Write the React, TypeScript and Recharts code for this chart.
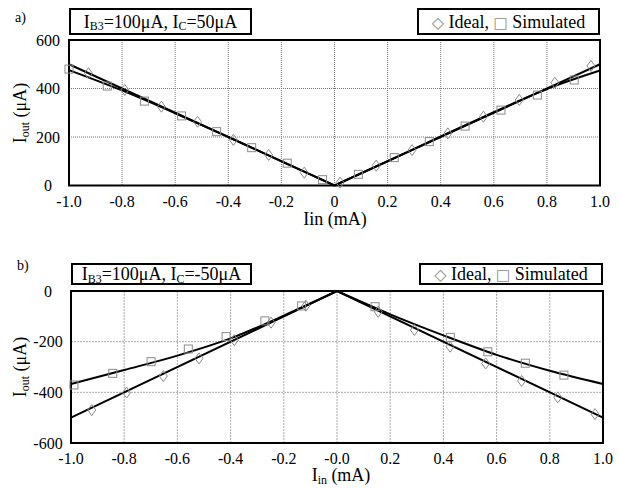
import React from 'react';
import {
  ComposedChart,
  Line,
  Scatter,
  XAxis,
  YAxis,
  CartesianGrid,
  ReferenceArea,
} from 'recharts';

// ---------- shared ticks ----------
const xTicks = [-1, -0.8, -0.6, -0.4, -0.2, 0, 0.2, 0.4, 0.6, 0.8, 1];
const yTicksA = [0, 200, 400, 600];
const yTicksB = [-600, -400, -200, 0];

// ---------- chart a) IC = 50 uA ----------
const idealMarkAX = [-0.927, -0.79, -0.652, -0.516, -0.381, -0.248, -0.114, 0.021, 0.157, 0.292, 0.427, 0.561, 0.696, 0.83, 0.966];
const idealMarkAY = [463, 394, 325, 263, 188, 126, 53, 12, 82, 146, 215, 284, 353, 424, 493];
const simMarkAX = [-1.0, -0.856, -0.716, -0.576, -0.444, -0.312, -0.178, -0.045, 0.09, 0.225, 0.357, 0.492, 0.627, 0.764, 0.903];
const simMarkAY = [480, 410, 348, 287, 222, 156, 92, 24, 46, 115, 181, 245, 311, 373, 435];
const idealLineAX = [-1, 0, 1];
const idealLineAY = [500, 0, 500];
const simLeftAX = [-1, -0.8, -0.6, -0.4, -0.2, 0];
const simLeftAY = [476, 392, 298, 200, 100, 0];
const simRightAX = [0, 0.2, 0.4, 0.6, 0.8, 1];
const simRightAY = [0, 100, 202, 302, 398, 474];

// ---------- chart b) IC = -50 uA ----------
const idealMarkBX = [-0.922, -0.791, -0.653, -0.519, -0.386, -0.248, -0.117, 0.155, 0.291, 0.425, 0.559, 0.694, 0.83, 0.97];
const idealMarkBY = [-470, -401, -336, -266, -194, -125, -58, -82, -154, -220, -286, -355, -420, -486];
const simMarkBX = [-0.989, -0.843, -0.699, -0.559, -0.417, -0.271, -0.133, 0.143, 0.426, 0.567, 0.708, 0.853];
const simMarkBY = [-371, -325, -279, -229, -180, -118, -59, -62, -183, -240, -285, -332];
const idealLineBX = [-1, 0, 1];
const idealLineBY = [-500, 0, -500];
const simLeftBX = [-1, -0.8, -0.6, -0.4, -0.2, 0];
const simLeftBY = [-367, -312, -255, -187, -97, 0];
const simRightBX = [0, 0.2, 0.4, 0.6, 0.8, 1];
const simRightBY = [0, -92, -175, -252, -315, -367];

const zip = (xs: number[], ys: number[]) => xs.map((x, i) => ({ x, y: ys[i] }));

const FONT = '"Liberation Serif", "Times New Roman", serif';
const SYM = '"DejaVu Sans", sans-serif';
const MARK = '#8a8a8a';

const Diamond = (p: any) => {
  const { cx, cy } = p;
  if (cx == null || cy == null) return <g />;
  return (
    <path
      d={`M${cx},${cy - 5.5} L${cx + 4},${cy} L${cx},${cy + 5.5} L${cx - 4},${cy} Z`}
      fill="none"
      stroke={MARK}
      strokeWidth={1}
    />
  );
};

const Square = (p: any) => {
  const { cx, cy } = p;
  if (cx == null || cy == null) return <g />;
  return <rect x={cx - 4} y={cy - 4} width={8} height={8} fill="none" stroke={MARK} strokeWidth={1} />;
};

const makeXTick = (labelY: number, zeroText: string) => (p: any) => {
  const v = p.payload.value as number;
  const txt = Math.abs(v) < 1e-9 ? zeroText : v.toFixed(1);
  return (
    <text
      x={p.x}
      y={labelY}
      dy="0.35em"
      textAnchor="middle"
      style={{ fontFamily: FONT, fontSize: 16 }}
      fill="#000"
    >
      {txt}
    </text>
  );
};

const makeYTick = (labelX: number) => (p: any) => (
  <text x={labelX} y={p.y} dy="0.35em" textAnchor="middle" style={{ fontFamily: FONT, fontSize: 16 }} fill="#000">
    {p.payload.value}
  </text>
);

const Sub = ({ children }: { children: React.ReactNode }) => (
  <span style={{ fontSize: '0.66em', position: 'relative', top: '0.25em' }}>{children}</span>
);

const boxStyle = (left: number, top: number, width: number, height: number): React.CSSProperties => ({
  position: 'absolute',
  left,
  top,
  width,
  height,
  border: '2px solid #000',
  boxSizing: 'border-box',
  display: 'flex',
  alignItems: 'center',
  justifyContent: 'center',
  fontFamily: FONT,
  fontSize: 18,
  whiteSpace: 'nowrap',
  background: '#fff',
  lineHeight: 1,
});

const LegendSeries = () => (
  <span>
    <span style={{ color: MARK, fontFamily: SYM, fontSize: 16 }}>◇</span> Ideal,{' '}
    <span style={{ color: MARK, fontFamily: SYM, fontSize: 15 }}>□</span> Simulated
  </span>
);

export default function App() {
  return (
    <div
      style={{
        position: 'absolute',
        left: 0,
        top: 0,
        width: 619,
        height: 488,
        background: '#fff',
        fontFamily: FONT,
        overflow: 'hidden',
      }}
    >
      {/* ---------------- chart a ---------------- */}
      <div style={{ position: 'absolute', left: 0, top: 0 }}>
        <ComposedChart width={619} height={240} margin={{ top: 40, right: 19, bottom: 24.5, left: 0 }}>
          <CartesianGrid stroke="#777" strokeDasharray="1 1" strokeWidth={1} />
          <XAxis
            type="number"
            dataKey="x"
            domain={[-1, 1]}
            ticks={xTicks}
            interval={0}
            height={30}
            tickLine={false}
            axisLine={false}
            tick={makeXTick(201, '0')}
          />
          <YAxis
            type="number"
            domain={[0, 600]}
            ticks={yTicksA}
            interval={0}
            width={69}
            tickLine={false}
            axisLine={false}
            tick={makeYTick(48)}
          />
          <Scatter data={zip(idealMarkAX, idealMarkAY)} dataKey="y" shape={Diamond} isAnimationActive={false} />
          <Scatter data={zip(simMarkAX, simMarkAY)} dataKey="y" shape={Square} isAnimationActive={false} />
          <Line data={zip(idealLineAX, idealLineAY)} dataKey="y" type="linear" stroke="#000" strokeWidth={2} dot={false} isAnimationActive={false} />
          <Line data={zip(simLeftAX, simLeftAY)} dataKey="y" type="monotone" stroke="#000" strokeWidth={2} dot={false} isAnimationActive={false} />
          <Line data={zip(simRightAX, simRightAY)} dataKey="y" type="monotone" stroke="#000" strokeWidth={2} dot={false} isAnimationActive={false} />
          <ReferenceArea x1={-1} x2={1} y1={0} y2={600} fill="none" stroke="#000" strokeWidth={2} />
        </ComposedChart>
      </div>

      <div style={{ position: 'absolute', left: 15, top: 11, fontSize: 14, lineHeight: 1, fontFamily: FONT }}>a)</div>
      <div style={boxStyle(69, 8, 183, 27)}>
        <span>
          I<Sub>B3</Sub>=100μA, I<Sub>C</Sub>=50μA
        </span>
      </div>
      <div style={boxStyle(417, 8, 183, 27)}>
        <LegendSeries />
      </div>
      <div
        style={{
          position: 'absolute',
          left: 20,
          top: 113,
          transform: 'translate(-50%, -50%) rotate(-90deg)',
          fontSize: 18,
          whiteSpace: 'nowrap',
          lineHeight: 1,
        }}
      >
        I<Sub>out</Sub> (μA)
      </div>
      <div
        style={{
          position: 'absolute',
          left: 335,
          top: 219,
          transform: 'translate(-50%, -50%)',
          fontSize: 18,
          whiteSpace: 'nowrap',
          lineHeight: 1,
        }}
      >
        Iin (mA)
      </div>

      {/* ---------------- chart b ---------------- */}
      <div style={{ position: 'absolute', left: 0, top: 240 }}>
        <ComposedChart width={619} height={248} margin={{ top: 51, right: 16, bottom: 15, left: 0 }}>
          <CartesianGrid stroke="#aaa" strokeDasharray="2 1" strokeWidth={1} />
          <XAxis
            type="number"
            dataKey="x"
            domain={[-1, 1]}
            ticks={xTicks}
            interval={0}
            height={30}
            tickLine={false}
            axisLine={false}
            tick={makeXTick(218, '-0.0')}
          />
          <YAxis
            type="number"
            domain={[-600, 0]}
            ticks={yTicksB}
            interval={0}
            width={71}
            tickLine={false}
            axisLine={false}
            tick={makeYTick(48)}
          />
          <Scatter data={zip(idealMarkBX, idealMarkBY)} dataKey="y" shape={Diamond} isAnimationActive={false} />
          <Scatter data={zip(simMarkBX, simMarkBY)} dataKey="y" shape={Square} isAnimationActive={false} />
          <Line data={zip(idealLineBX, idealLineBY)} dataKey="y" type="linear" stroke="#000" strokeWidth={2} dot={false} isAnimationActive={false} />
          <Line data={zip(simLeftBX, simLeftBY)} dataKey="y" type="monotone" stroke="#000" strokeWidth={2} dot={false} isAnimationActive={false} />
          <Line data={zip(simRightBX, simRightBY)} dataKey="y" type="monotone" stroke="#000" strokeWidth={2} dot={false} isAnimationActive={false} />
          <ReferenceArea x1={-1} x2={1} y1={-600} y2={0} fill="none" stroke="#000" strokeWidth={2} />
        </ComposedChart>
      </div>

      <div style={{ position: 'absolute', left: 17, top: 259, fontSize: 14, lineHeight: 1, fontFamily: FONT }}>b)</div>
      <div style={boxStyle(71, 263, 181, 22)}>
        <span>
          I<Sub>B3</Sub>=100μA, I<Sub>C</Sub>=-50μA
        </span>
      </div>
      <div style={boxStyle(419, 263, 184, 22)}>
        <LegendSeries />
      </div>
      <div
        style={{
          position: 'absolute',
          left: 20,
          top: 367,
          transform: 'translate(-50%, -50%) rotate(-90deg)',
          fontSize: 18,
          whiteSpace: 'nowrap',
          lineHeight: 1,
        }}
      >
        I<Sub>out</Sub> (μA)
      </div>
      <div
        style={{
          position: 'absolute',
          left: 341,
          top: 475,
          transform: 'translate(-50%, -50%)',
          fontSize: 18,
          whiteSpace: 'nowrap',
          lineHeight: 1,
        }}
      >
        I<Sub>in</Sub> (mA)
      </div>
    </div>
  );
}
